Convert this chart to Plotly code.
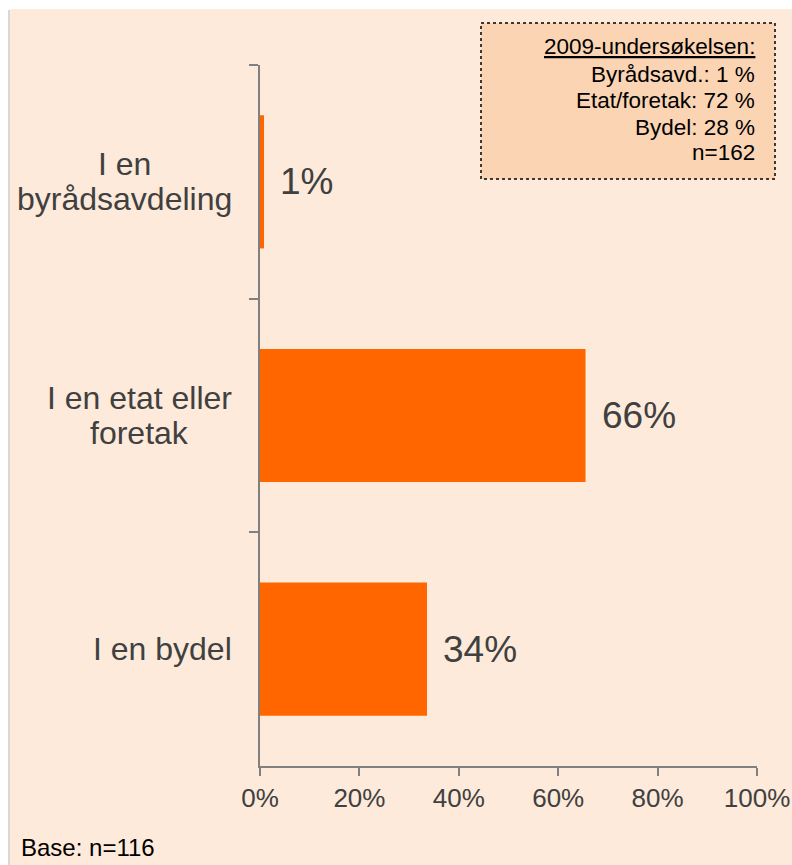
import plotly.graph_objects as go

categories = ["I en byrådsavdeling", "I en etat eller foretak", "I en bydel"]
cat_label_lines = [["I en", "byrådsavdeling"], ["I en etat eller", "foretak"], ["I en bydel"]]
values = [0.8, 65.5, 33.6]
value_labels = ["1%", "66%", "34%"]
x_ticks = [0, 20, 40, 60, 80, 100]
x_tick_labels = ["0%", "20%", "40%", "60%", "80%", "100%"]
note_lines = ["<u>2009-undersøkelsen:</u>", "Byrådsavd.: 1 %", "Etat/foretak: 72 %", "Bydel: 28 %", "n=162"]
base_text = "Base: n=116"

W, H = 792, 865
L, R, T, B = 260, 35, 65, 99
pw, ph = W - L - R, H - T - B

def px(x):
    return (x - L) / pw

def py(y):
    return (H - B - y) / ph

FONT = "Arial, Liberation Sans, sans-serif"
GRAY = "#404040"

# approximate Arial advance widths (em/1000) for centring stacked label lines
ARIAL_W = {" ": 278, "I": 278, "e": 556, "n": 556, "b": 556, "y": 500, "r": 333, "å": 556,
           "d": 556, "s": 500, "a": 556, "v": 500, "l": 222, "i": 222, "g": 556, "t": 278,
           "f": 278, "o": 556, "k": 500}

def text_w(s, size):
    return sum(ARIAL_W.get(ch, 556) for ch in s) / 1000 * size

CAT_SIZE = 32
LABEL_RIGHT = 232
LINE_GAP = 35

fig = go.Figure()
fig.add_trace(go.Bar(
    x=values, y=categories, orientation="h",
    marker=dict(color="#FF6600", line=dict(width=0)),
    width=0.57, hoverinfo="skip",
))

annotations = []
for c, v, t in zip(categories, values, value_labels):
    annotations.append(dict(x=v, y=c, xref="x", yref="y", text=t, showarrow=False,
                            xanchor="left", xshift=14,
                            font=dict(family=FONT, size=37, color=GRAY)))
for c, lines in zip(categories, cat_label_lines):
    n = len(lines)
    widest = max(text_w(s, CAT_SIZE) for s in lines)
    center = LABEL_RIGHT - widest / 2
    for i, t in enumerate(lines):
        shift = (n - 1) / 2 * LINE_GAP - i * LINE_GAP
        annotations.append(dict(x=px(center), y=c, xref="paper", yref="y", text=t, showarrow=False,
                                xanchor="center", yshift=shift,
                                font=dict(family=FONT, size=CAT_SIZE, color=GRAY)))

note_y = [47, 74, 100, 127, 153]
for t, yy in zip(note_lines, note_y):
    annotations.append(dict(x=px(757), y=py(yy), xref="paper", yref="paper", text=t,
                            showarrow=False, xanchor="right", yanchor="middle",
                            font=dict(family=FONT, size=22.5, color="#000000")))
annotations.append(dict(x=px(19), y=py(847), xref="paper", yref="paper", text=base_text,
                        showarrow=False, xanchor="left", yanchor="middle",
                        font=dict(family=FONT, size=24, color="#000000")))

shapes = [
    dict(type="rect", xref="paper", yref="paper", x0=px(10), x1=px(W + 2), y0=py(9), y1=py(H + 2),
         fillcolor="#FDEADA", line=dict(width=0), layer="below"),
    dict(type="line", xref="paper", yref="paper", x0=px(9), x1=px(9), y0=py(10), y1=py(H + 2),
         line=dict(color="#D8D8D8", width=2), layer="below"),
    dict(type="rect", xref="paper", yref="paper", x0=px(481), x1=px(775), y0=py(23), y1=py(179),
         fillcolor="#FBD4B4", line=dict(color="#000000", width=1.5, dash="dot"), layer="below"),
]

fig.update_layout(
    width=W, height=H, autosize=False,
    margin=dict(l=L, r=R, t=T, b=B, pad=0),
    paper_bgcolor="white", plot_bgcolor="rgba(0,0,0,0)",
    showlegend=False,
    annotations=annotations, shapes=shapes,
    xaxis=dict(range=[0, 100], tickvals=x_ticks, ticktext=x_tick_labels, automargin=False,
               showgrid=False, zeroline=False, showline=True, linecolor="#808080", linewidth=1.5,
               ticks="outside", ticklen=8, tickcolor="#808080", tickwidth=1.5,
               tickfont=dict(family=FONT, size=26, color=GRAY), fixedrange=True),
    yaxis=dict(categoryorder="array", categoryarray=categories, autorange=False, range=[2.5, -0.5],
               showticklabels=False, tickson="boundaries", automargin=False,
               showgrid=False, zeroline=False, showline=True, linecolor="#808080", linewidth=1.5,
               ticks="outside", ticklen=9, tickcolor="#808080", tickwidth=1.5, fixedrange=True),
)

fig.write_html("out.html", config={"displayModeBar": False, "responsive": False},
               post_script="document.body.style.margin='0';document.body.style.overflow='hidden';")
